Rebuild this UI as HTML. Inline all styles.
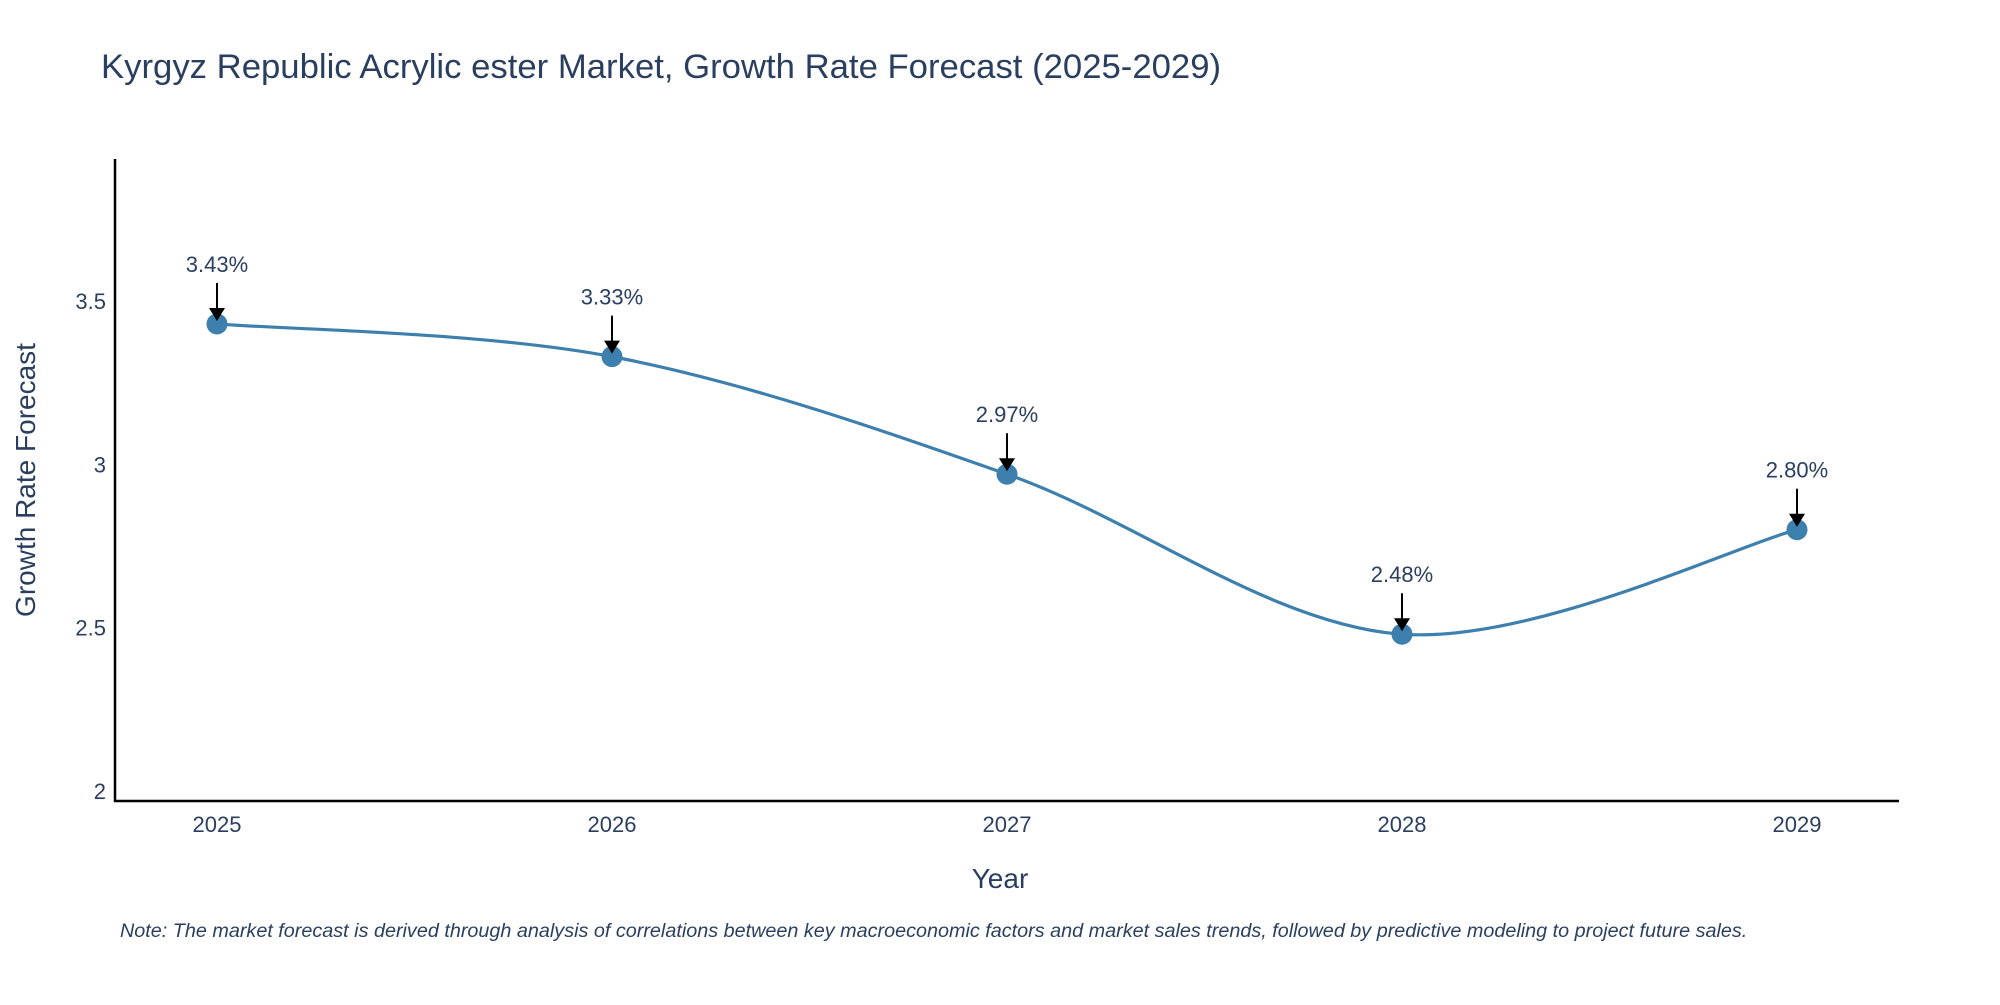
<!DOCTYPE html>
<html><head><meta charset="utf-8">
<style>
html,body{margin:0;padding:0;background:#fff;}
svg text{font-family:"Liberation Sans","DejaVu Sans",sans-serif;}
</style></head>
<body>
<svg id="chart" width="2000" height="1000" xmlns="http://www.w3.org/2000/svg">
<text x="101" y="78" font-size="34.7" fill="#2a3f5f">Kyrgyz Republic Acrylic ester Market, Growth Rate Forecast (2025-2029)</text>
<g id="axes"></g>
<g id="plot"></g>
<text x="1000" y="888" font-size="28" fill="#2a3f5f" text-anchor="middle">Year</text>
<text transform="translate(35,480) rotate(-90)" font-size="28" fill="#2a3f5f" text-anchor="middle">Growth Rate Forecast</text>
<text x="120" y="937" font-size="19.8" font-style="italic" fill="#2a3f5f">Note: The market forecast is derived through analysis of correlations between key macroeconomic factors and market sales trends, followed by predictive modeling to project future sales.</text>
</svg>
<script>
const years = ["2025","2026","2027","2028","2029"];
const values = [3.43, 3.33, 2.97, 2.48, 2.80];
const labels = ["3.43%","3.33%","2.97%","2.48%","2.80%"];
const yTicks = [2, 2.5, 3, 3.5];
const yTickLabels = ["2","2.5","3","3.5"];

const NS="http://www.w3.org/2000/svg";
const X0=217, XSTEP=395, Y0=791, YPER=326.6;
const xs=i=>X0+i*XSTEP;
const ys=v=>Y0-(v-2)*YPER;
function mk(tag,attrs,parent){const e=document.createElementNS(NS,tag);for(const k in attrs)e.setAttribute(k,attrs[k]);parent.appendChild(e);return e;}
const axes=document.getElementById('axes'), plot=document.getElementById('plot');

let yl=mk('line',{x1:115,y1:159,x2:115,y2:802,stroke:'#000','stroke-width':2.5},axes);


let xl=mk('line',{x1:114,y1:801,x2:1899,y2:801,stroke:'#000','stroke-width':2.5},axes);



yTicks.forEach((t,i)=>{
  const tx=mk('text',{x:106,y:ys(t)+8,'font-size':22,fill:'#2a3f5f','text-anchor':'end'},axes);
  tx.textContent=yTickLabels[i];
  
  
});
years.forEach((y,i)=>{
  const tx=mk('text',{x:xs(i),y:832,'font-size':22,fill:'#2a3f5f','text-anchor':'middle'},axes);
  tx.textContent=y;
  
  
});

const pts=values.map((v,i)=>[xs(i),ys(v)]);
let d=`M${pts[0][0]},${pts[0][1]}`;
const s=0.33;
for(let i=0;i<pts.length-1;i++){
  const p0=pts[Math.max(0,i-1)],p1=pts[i],p2=pts[i+1],p3=pts[Math.min(pts.length-1,i+2)];
  const c1=[p1[0]+(p2[0]-p0[0])*s/2,p1[1]+(p2[1]-p0[1])*s/2];
  const c2=[p2[0]-(p3[0]-p1[0])*s/2,p2[1]-(p3[1]-p1[1])*s/2];
  d+=` C${c1[0]},${c1[1]} ${c2[0]},${c2[1]} ${p2[0]},${p2[1]}`;
}
const line=mk('path',{d:d,fill:'none',stroke:'#3d7fad','stroke-width':3.2},plot);



pts.forEach((p,i)=>{
  const c=mk('circle',{cx:p[0],cy:p[1],r:10.5,fill:'#3d7fad'},plot);
  
  
  const a=mk('line',{x1:p[0],y1:p[1]-41,x2:p[0],y2:p[1]-14,stroke:'#000','stroke-width':2},plot);
  
  
  const h=mk('polygon',{points:`${p[0]-8},${p[1]-16} ${p[0]+8},${p[1]-16} ${p[0]},${p[1]-3}`,fill:'#000'},plot);
  
  
  const t=mk('text',{x:p[0],y:p[1]-52,'font-size':22,fill:'#2a3f5f','text-anchor':'middle'},plot);
  t.textContent=labels[i];
  
  
});
</script>
</body></html>
